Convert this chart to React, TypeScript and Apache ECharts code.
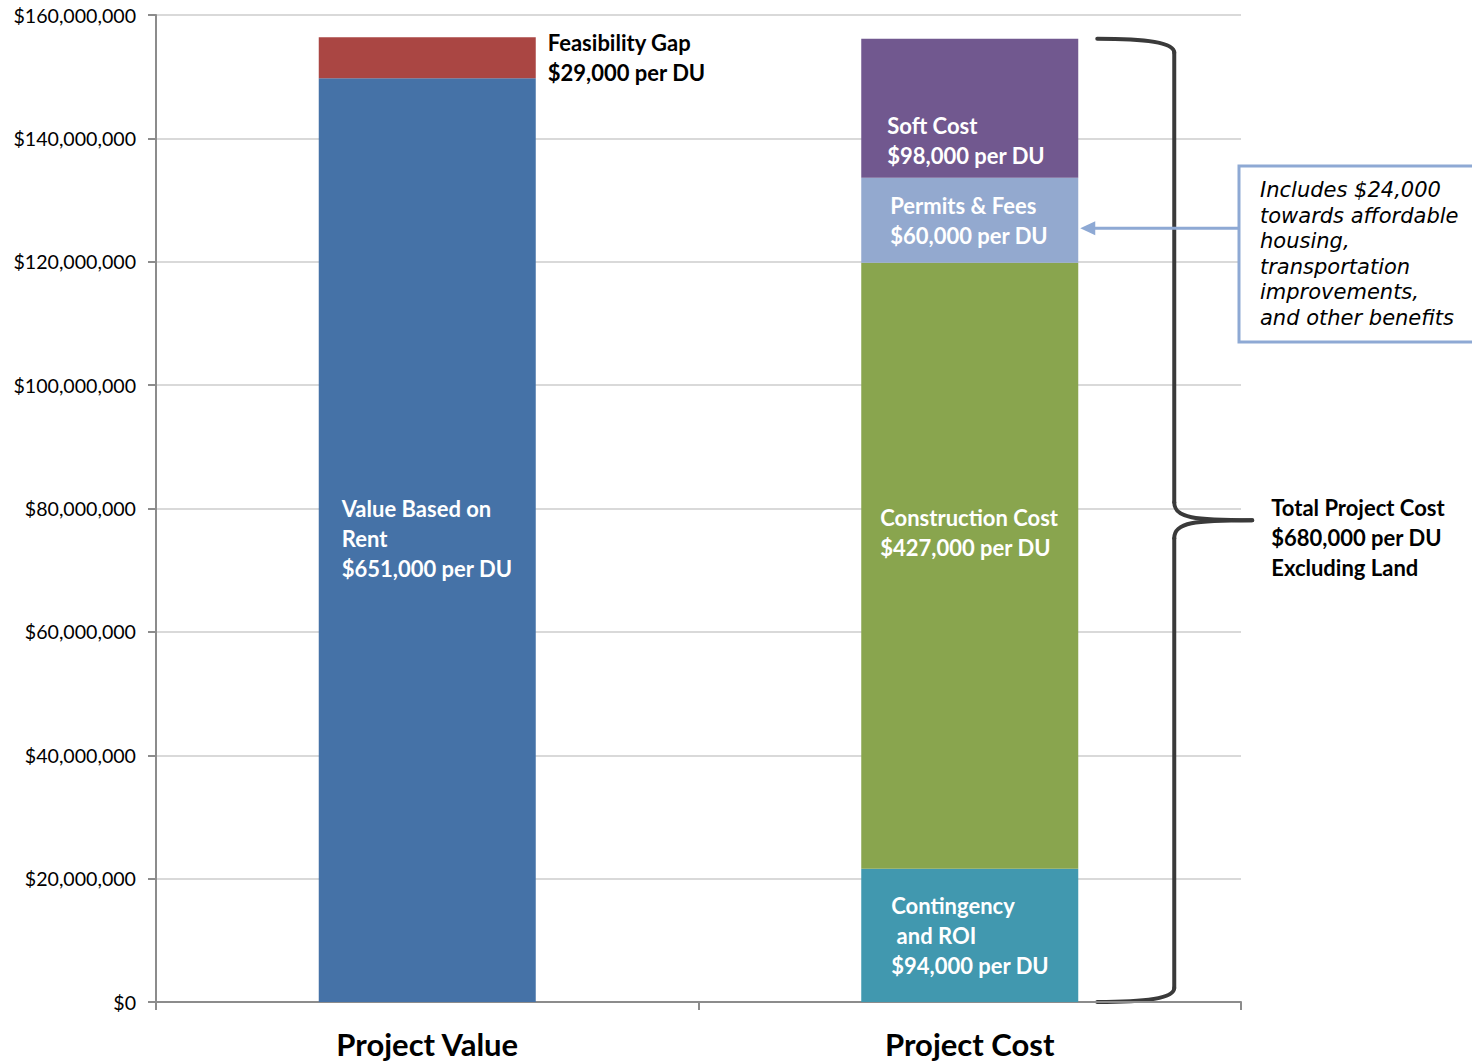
import React, { useEffect, useRef } from "react";
import * as echarts from "echarts";

// Dwelling units in the project; segment heights are per-DU amounts times this count
const UNITS = 230;

const categories = ["Project Value", "Project Cost"];
const yTicks = [0, 20000000, 40000000, 60000000, 80000000, 100000000, 120000000, 140000000, 160000000];

// Per-DU amounts (dollars)
const valueBasedOnRentPerDu = [651000, null];
const feasibilityGapPerDu = [29000, null];
const contingencyPerDu = [null, 94000];
const constructionPerDu = [null, 427000];
const permitsPerDu = [null, 60000];
const softCostPerDu = [null, 98000];

const totalCostPerDu = 680000;

const segmentLabels = {
  value: "Value Based on\nRent\n$651,000 per DU",
  gap: "Feasibility Gap\n$29,000 per DU",
  contingency: "Contingency\n and ROI\n$94,000 per DU",
  construction: "Construction Cost\n$427,000 per DU",
  permits: "Permits & Fees\n$60,000 per DU",
  soft: "Soft Cost\n$98,000 per DU",
};

const noteLines = [
  "Includes $24,000",
  "towards affordable",
  "housing,",
  "transportation",
  "improvements,",
  "and other benefits",
];

const toTotals = (arr: (number | null)[]) => arr.map((v) => (v == null ? "-" : v * UNITS));

const FONT = "Lato, 'Open Sans', sans-serif";

export default function App() {
  const ref = useRef<HTMLDivElement>(null);

  useEffect(() => {
    if (!ref.current) return;
    const chart = echarts.init(ref.current, null, { renderer: "svg" });

    const segLabel = (text: string, distance: number, dy: number, color = "#fff", position: any = "insideLeft") => ({
      show: true,
      position,
      distance,
      offset: [0, dy],
      formatter: () => text,
      color,
      fontFamily: FONT,
      fontWeight: "bold",
      fontSize: 22,
      lineHeight: 30,
      align: "left",
    });

    const bar = (name: string, data: any[], color: string, label: any) => ({
      name,
      type: "bar",
      stack: "total",
      barWidth: "40%",
      data,
      itemStyle: { color },
      label,
      emphasis: { disabled: true },
    });

    chart.setOption({
      animation: false,
      grid: { left: 156, right: 231, top: 15, bottom: 61, containLabel: false },
      xAxis: {
        type: "category",
        data: categories,
        axisLine: { lineStyle: { color: "#8c8c8c", width: 2 } },
        axisTick: { show: true, length: 8, lineStyle: { color: "#8c8c8c", width: 2 } },
        axisLabel: {
          color: "#000",
          fontFamily: FONT,
          fontWeight: "bold",
          fontSize: 31,
          lineHeight: 31,
          margin: 26,
        },
      },
      yAxis: {
        type: "value",
        min: 0,
        max: 160000000,
        interval: 20000000,
        axisLine: { show: true, lineStyle: { color: "#8c8c8c", width: 2 } },
        axisTick: { show: true, length: 8, lineStyle: { color: "#8c8c8c", width: 2 } },
        splitLine: { lineStyle: { color: "#d9d9d9", width: 2 } },
        axisLabel: {
          color: "#000",
          fontFamily: FONT,
          fontSize: 19.6,
          margin: 20,
          formatter: (v: number) => (yTicks.includes(v) ? "$" + v.toLocaleString("en-US") : ""),
        },
      },
      series: [
        bar("Value Based on Rent", toTotals(valueBasedOnRentPerDu), "#4572A7", segLabel(segmentLabels.value, 23, -2)),
        bar("Feasibility Gap", toTotals(feasibilityGapPerDu), "#AA4643", segLabel(segmentLabels.gap, 12, 0, "#000", "right")),
        bar("Contingency and ROI", toTotals(contingencyPerDu), "#4198AF", segLabel(segmentLabels.contingency, 30, 0)),
        bar("Construction Cost", toTotals(constructionPerDu), "#89A54E", segLabel(segmentLabels.construction, 19, -33)),
        bar("Permits & Fees", toTotals(permitsPerDu), "#93A9CF", segLabel(segmentLabels.permits, 29, 0)),
        bar("Soft Cost", toTotals(softCostPerDu), "#71588F", segLabel(segmentLabels.soft, 26, 32)),
      ],
    });

    // Brace and callout placed from the cost bar's pixel extent
    const totalCost = [contingencyPerDu, constructionPerDu, permitsPerDu, softCostPerDu]
      .reduce((s, a) => s + (a[1] as number) * UNITS, 0);
    const permitsMid =
      ((contingencyPerDu[1] as number) + (constructionPerDu[1] as number) + (permitsPerDu[1] as number) / 2) * UNITS;
    const top = chart.convertToPixel({ gridIndex: 0 }, [1, totalCost]) as number[];
    const bottom = chart.convertToPixel({ gridIndex: 0 }, [1, 0]) as number[];
    const arrowPt = chart.convertToPixel({ gridIndex: 0 }, [1, permitsMid]) as number[];
    const barRight = bottom[0] + 108.5;

    const yTop = top[1];
    const yBot = bottom[1];
    const yMid = (yTop + yBot) / 2;
    const xL = barRight + 19;
    const xV = xL + 77;
    const xTip = xV + 78;
    const braceStyle = { stroke: "#3a3a3a", lineWidth: 4, fill: null, lineCap: "round" };
    const arrowColor = "#8EA9D4";
    const arrowY = arrowPt[1] + 8;
    const boxX = 1239;

    chart.setOption({
      graphic: [
        { type: "bezierCurve", shape: { x1: xL, y1: yTop, cpx1: xL + 50, cpy1: yTop, cpx2: xV, cpy2: yTop + 4, x2: xV, y2: yTop + 14 }, style: braceStyle },
        { type: "line", shape: { x1: xV, y1: yTop + 14, x2: xV, y2: yMid - 18 }, style: braceStyle },
        { type: "bezierCurve", shape: { x1: xV, y1: yMid - 18, cpx1: xV, cpy1: yMid - 2, cpx2: xV + 20, cpy2: yMid, x2: xTip, y2: yMid }, style: braceStyle },
        { type: "bezierCurve", shape: { x1: xTip, y1: yMid, cpx1: xV + 20, cpy1: yMid, cpx2: xV, cpy2: yMid + 2, x2: xV, y2: yMid + 18 }, style: braceStyle },
        { type: "line", shape: { x1: xV, y1: yMid + 18, x2: xV, y2: yBot - 14 }, style: braceStyle },
        { type: "bezierCurve", shape: { x1: xV, y1: yBot - 14, cpx1: xV, cpy1: yBot - 4, cpx2: xL + 50, cpy2: yBot, x2: xL, y2: yBot }, style: braceStyle },
        {
          type: "text",
          x: xTip + 19,
          y: yMid + 17,
          style: {
            text: "Total Project Cost\n$" + totalCostPerDu.toLocaleString("en-US") + " per DU\nExcluding Land",
            fill: "#000",
            font: `bold 22px ${FONT}`,
            lineHeight: 30,
            verticalAlign: "middle",
            align: "left",
          },
        },
        // Callout arrow pointing at the permits segment
        { type: "line", shape: { x1: boxX, y1: arrowY, x2: barRight + 14, y2: arrowY }, style: { stroke: arrowColor, lineWidth: 3 } },
        {
          type: "polygon",
          shape: { points: [[barRight + 2, arrowY], [barRight + 17, arrowY - 7], [barRight + 17, arrowY + 7]] },
          style: { fill: arrowColor },
        },
        {
          type: "rect",
          shape: { x: boxX, y: 166, width: 240, height: 176 },
          style: { fill: "#fff", stroke: arrowColor, lineWidth: 3 },
        },
        {
          type: "text",
          x: 1260,
          y: 254,
          style: {
            text: noteLines.join("\n"),
            fill: "#000",
            fontFamily: "'DejaVu Sans', sans-serif",
            fontStyle: "italic",
            fontSize: 21,
            lineHeight: 25.6,
            verticalAlign: "middle",
            align: "left",
          },
        },
      ],
    });

    return () => chart.dispose();
  }, []);

  return (
    <div
      ref={ref}
      style={{ position: "absolute", left: 0, top: 0, width: 1472, height: 1063, background: "#fff" }}
    />
  );
}
